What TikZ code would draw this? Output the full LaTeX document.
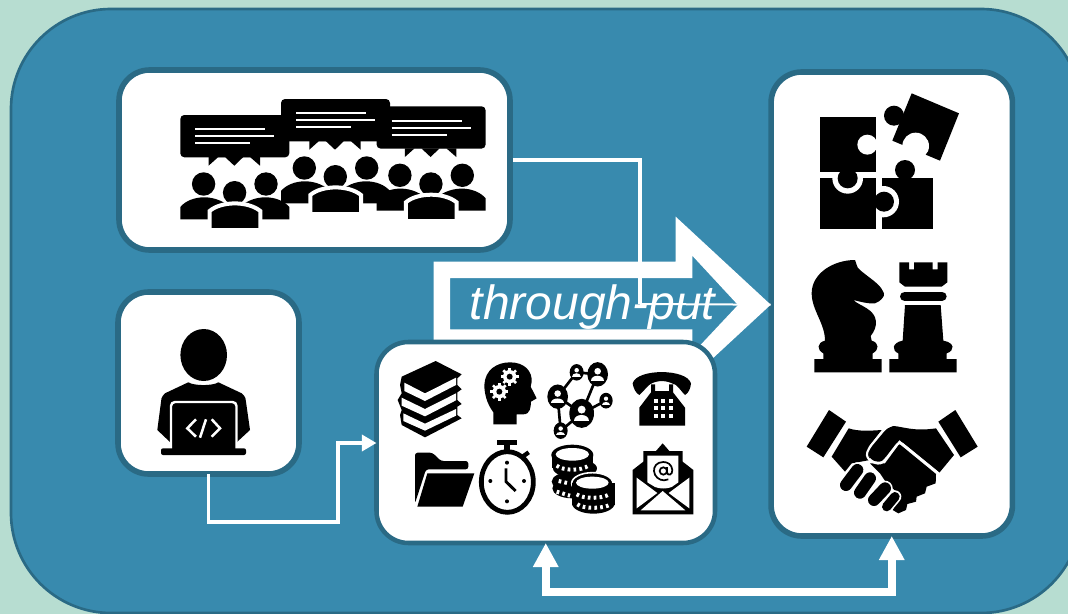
\documentclass[tikz,border=0pt]{standalone}
\usepackage{xcolor}
\usepackage{fontspec}
\setsansfont{Liberation Sans}
\usetikzlibrary{arrows.meta, calc}

\definecolor{pagegreen}{HTML}{B7DDD1}
\definecolor{fieldblue}{HTML}{388AAE}
\definecolor{edgeblue}{HTML}{2A6A85}

\begin{document}
\begin{tikzpicture}[
            x=0.75pt, y=-0.75pt,
            panel/.style={draw=edgeblue, fill=white, rounded corners=23pt, line width=4.2pt, inner sep=0pt, outer sep=0pt},
            thickwire/.style={draw=white, line width=2.6pt, shorten <=2.2pt},
            thinwire/.style={draw=white, line width=1.5pt},
            devlink/.style={draw=white, line width=2.8pt, -{Triangle[length=11pt,width=12pt]}},
            buslink/.style={draw=white, line width=6pt, {Triangle[length=18pt,width=18pt]}-{Triangle[length=18pt,width=18pt]}},
            flowlbl/.style={text=white, font=\sffamily\itshape\fontsize{36}{40}\selectfont, inner sep=0pt},
            textline/.style={draw=white, line width=1.4pt},
            coindots/.style={draw=white, line width=3pt, dash pattern=on 2pt off 2.4pt},
            talkgroup/.pic={
                % bubble and its tails
                \fill[rounded corners=3pt] (0,0) rectangle (109,42.3);
                \fill (28.3,42) -- (28.3,50.7) -- (38,42) -- (44.7,42) -- (54,50.7) -- (63,42) -- (69.7,42) -- (79.7,50.7) -- (79.7,42) -- cycle;
                \draw[textline] (15,14.3) -- (85,14.3);
                \draw[textline] (15,21.3) -- (94,21.3);
                \draw[textline] (15,28.3) -- (70,28.3);
                % three people
                \fill (23.3,69) circle[radius=11.7];
                \fill (85.7,69) circle[radius=11.7];
                \fill (0,104.3) -- (0,92) .. controls (5,86) and (14,82.3) .. (24,82.3) .. controls (35,82.3) and (45,87) .. (52,94) -- (52,104.3) -- cycle;
                \fill (109,104.3) -- (109,92) .. controls (104,86) and (95,82.3) .. (85,82.3) .. controls (74,82.3) and (64,87) .. (57,94) -- (57,104.3) -- cycle;
                \fill (54.3,77.7) circle[radius=11.7];
                \draw[white, line width=3pt, fill=black] (29.3,116) -- (29.3,96) .. controls (35,91) and (45,88.4) .. (54.6,88.4) .. controls (64,88.4) and (74,91) .. (80,96) -- (80,116) -- cycle;
                \fill[white] (26,112.7) rectangle (84,120);
            },
            gearwheel/.pic={
                \fill[white] (0,0) circle[radius=20];
                \foreach \a in {0,45,...,315} \draw[white, line width=1.9pt] (\a:15) -- (\a:27);
                \fill (0,0) circle[radius=9];
            }
        ]

        % 1. Page and field
        \useasboundingbox (0,0) rectangle (1068,614);
        \fill[pagegreen] (0,0) rectangle (1068,614);
        \draw[draw=edgeblue, fill=fieldblue, line width=2pt, rounded corners=75pt] (11,9) rectangle (1081,613);

        % 2. Panels
        \node[panel, minimum width=293.25pt, minimum height=135pt] (crowd) at (314.5,160) {};
        \node[panel, minimum width=135.75pt, minimum height=136.5pt] (dev) at (208.5,383) {};
        \node[panel, minimum width=181pt, minimum height=348pt] (goals) at (891.75,304) {};

        % 3. Through-put arrow, the tools panel hides its lower arm
        \coordinate (tip) at (770.7,304.7);
        \coordinate (riser) at (640,304);
        \fill[white, even odd rule] (433.7,261.7) -- (675.7,261.7) -- (675.7,216.7) -- (tip) -- (675.7,392.7) -- (675.7,340) -- (433.7,340) -- cycle
            (450,278) -- (692.3,278) -- (692.3,255.7) -- (738,305) -- (692.3,353.7) -- (692.3,329.3) -- (450,329.3) -- cycle;
        \node[flowlbl] (flowtext) at (592.5,307) {through-put};
        \node[panel, minimum width=253.875pt, minimum height=150.75pt, rounded corners=24pt, line width=3.4pt] (tools) at (545.75,442.5) {};

        % 4. Connectors
        \draw[thickwire] (crowd.east) -| (riser);
        \draw[thinwire] (riser) -- (tip);
        \coordinate (devturn) at (337.7,522);
        \coordinate (devrise) at (337.7,443);
        \draw[devlink] (dev.south) |- (devturn) -- (devrise) -- (devrise -| tools.west);
        \coordinate (busmid) at (718,591.5);
        \draw[buslink] (tools.south) |- (busmid) -| (goals.south);

        % --- CROWD ICON ---
        \pic at (180.3,115) {talkgroup};
        \pic at (281,99) {talkgroup};
        \pic at (376.6,106.3) {talkgroup};

        % --- DEVELOPER ICON ---
        \fill (203.7,355) ellipse[x radius=23.3, y radius=26];
        \fill (188.3,382.3) .. controls (194,386) and (213,386) .. (218.3,382.3) -- (241.7,393.3) .. controls (246,397) and (246,400) .. (246,402) -- (250,430) -- (237,442) -- (170,442) -- (157.3,430) -- (161,402) .. controls (161,400) and (161,397) .. (165,393.3) -- cycle;
        \draw[white, line width=1.8pt, fill=black, rounded corners=3pt] (171,449) -- (171,402) -- (236.5,402) -- (236.5,449);
        \fill[rounded corners=1.5pt] (161,448.3) rectangle (246,455);
        \draw[white, line width=1.9pt] (196,419.3) -- (187.3,428.3) -- (196,436.7);
        \draw[white, line width=1.9pt] (206,419.3) -- (200,437.7);
        \draw[white, line width=1.9pt] (211.7,419.3) -- (220,428.3) -- (211.7,436.7);

        % --- TOOL ICONS ---
        \begin{scope}[shift={(370,335)}, x=0.25pt, y=-0.25pt]
            % books
            \fill (95,125) -- (197,78) -- (275,118) -- (262,130) -- (262,150) -- (275,163) -- (262,172) -- (262,195) -- (275,207) -- (262,215) -- (262,240) -- (275,250) -- (165,307) -- (95,270) -- (90,240) -- (95,225) -- (83,195) -- (95,175) -- (90,150) -- cycle;
            \fill[white] (103,143) -- (165,175) -- (258,128) -- (258,150) -- (165,198) -- (103,168) -- cycle;
            \fill[white] (95,188) -- (165,222) -- (258,175) -- (258,196) -- (165,244) -- (95,212) -- cycle;
            \fill[white] (100,235) -- (165,266) -- (258,222) -- (258,242) -- (165,287) -- (100,258) -- cycle;
            % head with gears
            \fill (370,268) -- (370,232) .. controls (350,205) and (343,175) .. (343,150) .. controls (345,105) and (380,82) .. (420,82) .. controls (465,82) and (487,110) .. (485,140) -- (482,155) -- (500,190) -- (483,200) .. controls (482,215) and (482,238) .. (460,238) -- (440,238) -- (440,268) -- cycle;
            \pic at (419,125) {gearwheel};
            \pic at (388,170) {gearwheel};
            % network
            \draw[line width=2pt] (620,112) -- (683,118) -- (635,235) -- (563,185) -- (620,112);
            \draw[line width=2pt] (708,197) -- (635,235) -- (572,287) -- (563,185);
            \foreach \cx/\cy/\cr in {620/112/21, 683/118/31, 563/185/31, 708/197/20, 635/235/37, 572/287/21}{
                \fill (\cx,\cy) ellipse[x radius=\cr, y radius=1.18*\cr];
                \fill[white] ($(\cx,\cy)+(0,-0.3*\cr)$) circle[radius=0.32*\cr];
                \fill[white] ($(\cx,\cy)+(-0.62*\cr,0.6*\cr)$) .. controls ($(\cx,\cy)+(-0.62*\cr,0)$) and ($(\cx,\cy)+(0.62*\cr,0)$) .. ($(\cx,\cy)+(0.62*\cr,0.6*\cr)$) -- cycle;
            }
            % telephone
            \fill (788,145) .. controls (800,100) and (950,100) .. (963,145) .. controls (962,160) and (955,175) .. (945,180) .. controls (935,170) and (925,155) .. (915,148) -- (912,148) .. controls (890,135) and (860,135) .. (840,148) .. controls (830,155) and (820,170) .. (808,180) .. controls (798,175) and (790,160) .. (788,145) -- cycle;
            \fill (808,272) -- (808,218) -- (843,172) -- (843,148) -- (855,148) -- (855,168) -- (897,168) -- (897,148) -- (909,148) -- (909,172) -- (945,218) -- (945,272) -- cycle;
            \foreach \bx in {858,880,902}{
                \foreach \by in {198,220,243}{
                    \fill[white] (\bx-6,\by-6) rectangle (\bx+6,\by+6);
                }
            }
            % folder
            \fill[rounded corners=2pt] (135,505) -- (135,353) -- (187,353) -- (213,378) -- (295,378) -- (295,403) -- (168,403) -- cycle;
            \fill (172,415) -- (313,415) -- (278,515) -- (142,515) -- cycle;
            % stopwatch
            \fill (380,315) rectangle (442,329);
            \fill (402,329) rectangle (420,350);
            \draw[line width=3.2pt] (455,367) -- (476,352);
            \draw[line width=3.6pt] (412,441) ellipse[x radius=78, y radius=91];
            \draw[line width=2.2pt] (408,400) -- (408,440) -- (437,468);
            \fill (411,383) circle[radius=6];
            \fill (361,438) circle[radius=6];
            \fill (462,438) circle[radius=6];
            \fill (411,499) circle[radius=6];
            % coins
            \fill (607,360) ellipse[x radius=63, y radius=31];
            \fill (545,360) rectangle (670,400);
            \fill (615,400) ellipse[x radius=66, y radius=28];
            \fill (607,440) ellipse[x radius=62, y radius=30];
            \fill (607,460) ellipse[x radius=60, y radius=30];
            \fill[white] (607,358) ellipse[x radius=50, y radius=19];
            \draw[coindots] (560,392) .. controls (580,408) and (635,408) .. (655,392);
            \draw[coindots] (566,438) -- (600,446);
            \draw[coindots] (560,470) -- (600,482);
            \draw[white, line width=1.2pt, fill=black] (667,445) ellipse[x radius=62, y radius=32];
            \fill (605,445) rectangle (735,510);
            \fill (670,505) ellipse[x radius=64, y radius=31];
            \fill[white] (667,443) ellipse[x radius=49, y radius=18];
            \draw[coindots] (620,478) .. controls (640,492) and (695,492) .. (718,478);
            \draw[coindots] (622,508) .. controls (640,522) and (700,522) .. (722,508);
            % envelope
            \fill (788,405) -- (820,380) -- (820,348) -- (858,348) -- (878,325) -- (898,348) -- (938,348) -- (938,380) -- (970,405) -- (970,538) -- (788,538) -- cycle;
            \fill[white] (832,362) -- (925,362) -- (925,442) -- (905,456) .. controls (890,462) and (870,462) .. (855,456) -- (832,442) -- cycle;
            \fill[white] (800,428) -- (862,474) -- (800,520) -- cycle;
            \fill[white] (958,428) -- (896,474) -- (958,520) -- cycle;
            \fill[white] (812,526) -- (878,468) -- (946,526) -- cycle;
            \draw[line width=1.3pt] (880,408) circle[radius=11];
            \draw[line width=1.3pt] (891,396) -- (891,412) .. controls (893,424) and (908,420) .. (907,405) .. controls (905,388) and (893,381) .. (880,381) .. controls (860,381) and (851,395) .. (852,408) .. controls (853,425) and (868,436) .. (882,436) -- (895,433);
        \end{scope}

        % --- PUZZLE ICON ---
        \begin{scope}[shift={(770,70)}, x=0.25pt, y=-0.25pt]
            \fill (335,325) rectangle (488,478);
            \fill (405,300) circle[radius=30];
            \fill[white] (340,395) circle[radius=47];
            \fill (150,325) rectangle (317,478);
            \fill[white] (233,325) circle[radius=46];
            \fill (150,141) rectangle (317,306);
            \fill (233,325) circle[radius=30];
            \fill (342,395) circle[radius=30];
            \fill[white] (292,224) circle[radius=30];
            \fill (425,70) -- (567,130) -- (510,272) -- (367,212) -- cycle;
            \fill (372,137) circle[radius=30];
            \fill[white] (437,228) circle[radius=40];
        \end{scope}

        % --- CHESS ICON ---
        \begin{scope}[shift={(800,250)}, x=0.25pt, y=-0.25pt]
            \fill (43,367) -- (245,367) -- (245,327) -- (218,327) -- (218,310) .. controls (238,300) and (238,278) .. (215,272) -- (212,258) .. controls (235,230) and (235,195) .. (200,175) .. controls (185,165) and (170,160) .. (160,150) .. controls (180,155) and (205,162) .. (225,160) .. controls (240,155) and (255,140) .. (252,130) .. controls (245,110) and (225,95) .. (205,80) .. controls (190,68) and (170,55) .. (170,45) -- (165,30) .. controls (100,30) and (35,70) .. (35,130) .. controls (35,180) and (75,220) .. (75,272) .. controls (50,278) and (50,300) .. (70,310) -- (70,327) -- (43,327) -- cycle;
            \fill (268,367) -- (470,367) -- (470,327) -- (440,327) -- (440,310) .. controls (465,302) and (465,278) .. (430,272) -- (422,165) -- (315,165) -- (308,272) .. controls (275,278) and (275,302) .. (295,310) -- (295,327) -- (268,327) -- cycle;
            \draw[line width=7pt, line cap=round] (314,139) -- (426,139);
            \fill (298,37) -- (327,37) -- (327,58) -- (342,58) -- (342,37) -- (398,37) -- (398,58) -- (413,58) -- (413,37) -- (442,37) -- (442,97) -- (425,110) -- (315,110) -- (298,97) -- cycle;
        \end{scope}

        % --- HANDSHAKE ICON ---
        \begin{scope}[shift={(770,300)}, x=0.25pt, y=-0.25pt]
            \fill (177,330) -- (228,365) -- (160,472) -- (110,440) -- cycle;
            \fill (556,330) -- (505,365) -- (572,472) -- (623,440) -- cycle;
            \fill (236,385) .. controls (265,395) and (305,392) .. (335,390) -- (296,440) -- (300,480) -- (245,490) -- (225,515) -- (185,470) -- cycle;
            \fill (388,432) -- (498,522) -- (497,550) -- (470,560) -- (465,580) -- (440,590) -- (438,605) -- (412,612) -- (408,630) -- (385,640) -- (368,630) -- (385,600) -- (385,580) -- (350,550) -- (330,520) -- (300,490) -- (345,490) -- cycle;
            \fill (370,378) .. controls (400,380) and (430,395) .. (498,385) -- (552,465) -- (508,518) -- (388,420) -- (345,478) .. controls (325,495) and (285,480) .. (298,445) -- (345,388) -- cycle;
            \draw[white, line width=1.6pt, rounded corners=3pt] (506,520) -- (388,424) -- (345,480) .. controls (325,497) and (283,482) .. (296,445) -- (345,386) -- (362,374);
            \draw[white, line width=11.5pt, line cap=round] (228,555) -- (262,510);
            \draw[line width=9pt, line cap=round] (228,555) -- (262,510);
            \draw[white, line width=11.5pt, line cap=round] (270,578) -- (300,535);
            \draw[line width=9pt, line cap=round] (270,578) -- (300,535);
            \draw[white, line width=11.5pt, line cap=round] (312,600) -- (345,565);
            \draw[line width=9pt, line cap=round] (312,600) -- (345,565);
            \draw[white, line width=9.5pt, line cap=round] (350,620) -- (375,590);
            \draw[line width=7pt, line cap=round] (350,620) -- (375,590);
        \end{scope}

\end{tikzpicture}
\end{document}
